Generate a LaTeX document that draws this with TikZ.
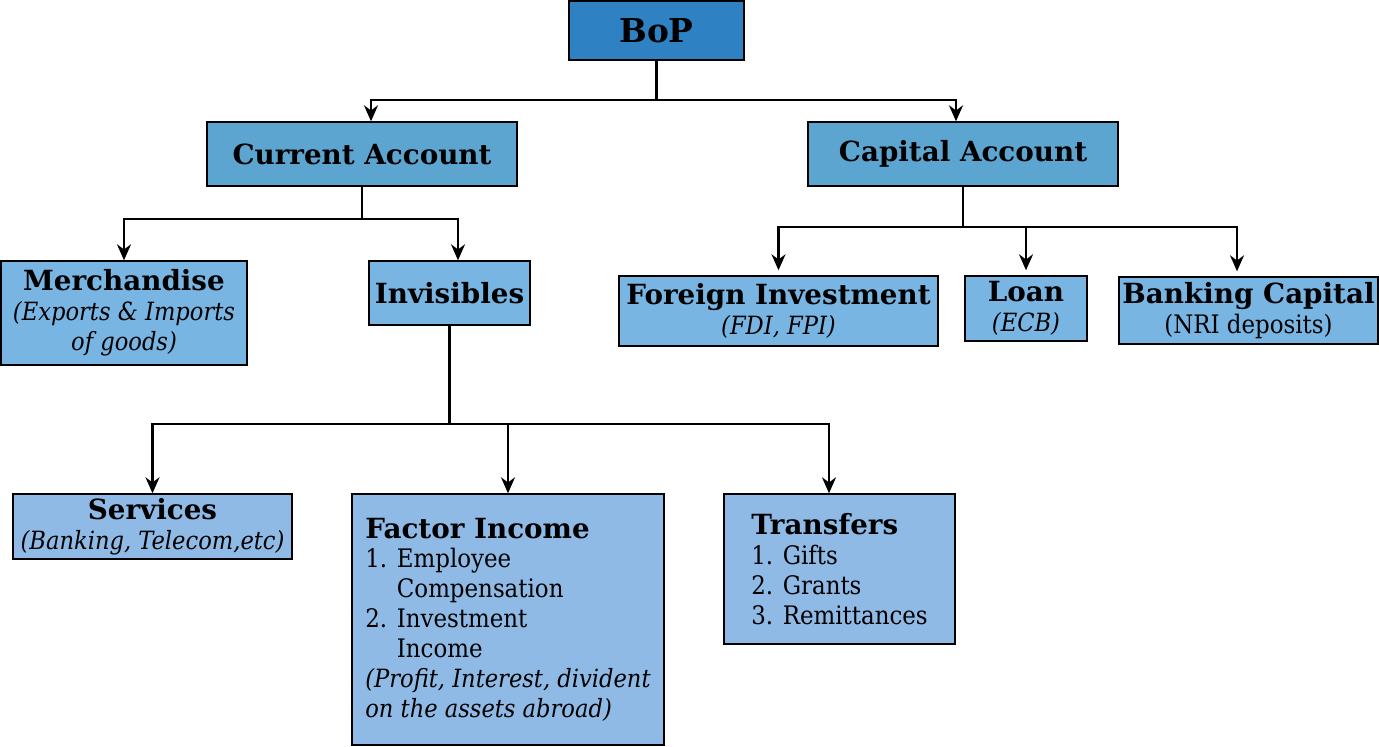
\documentclass[tikz,border=0pt]{standalone}
\usepackage{fontspec}
\setmainfont{DejaVu Serif}
\newfontfamily\condfont{DejaVu Serif Condensed}
\usetikzlibrary{arrows.meta}
\definecolor{bopblue}{RGB}{46,130,195}
\definecolor{accblue}{RGB}{93,165,209}
\definecolor{midblue}{RGB}{120,181,227}
\definecolor{lowblue}{RGB}{142,186,229}
\newcommand{\hdtxt}{\bfseries\fontsize{15.8}{17}\selectfont}
\newcommand{\ittxt}{\condfont\itshape\fontsize{14.3}{17}\selectfont}
\newcommand{\rmtxt}{\condfont\fontsize{14.5}{17}\selectfont}

\begin{document}
\begin{tikzpicture}

\tikzset{box/.style = {draw, line width=0.8pt, inner sep=2pt, font=\fontsize{14}{17}\selectfont}}
\tikzset{edge/.style = {-{Stealth[length=3.2mm,width=2.8mm]}, line width=1.3pt}}
\tikzset{link/.style = {line width=1.3pt}}
\useasboundingbox (0,0) rectangle (27.58,-14.92);
%nodes
\node[box, fill=bopblue, minimum width=3.5cm, minimum height=1.18cm, font=\bfseries\fontsize{18.7}{22}\selectfont] (bop) at (13.13,-0.61) {BoP};
\node[box, fill=accblue, minimum width=6.2cm, minimum height=1.28cm, font=\hdtxt] (cur) at (7.24,-3.08) {Current Account};
\node[box, fill=accblue, minimum width=6.2cm, minimum height=1.28cm, font=\hdtxt] (cap) at (19.26,-3.08) {Capital Account};
\node[box, fill=midblue, minimum width=4.92cm, minimum height=2.08cm, align=center] (mer) at (2.48,-6.26) {\hdtxt Merchandise\\ \ittxt (Exports \& Imports\\ \ittxt of goods)};
\node[box, fill=midblue, minimum width=3.22cm, minimum height=1.28cm, font=\hdtxt] (inv) at (8.99,-5.86) {Invisibles};
\node[box, fill=midblue, minimum width=6.38cm, minimum height=1.4cm, align=center] (fi) at (15.57,-6.22) {\hdtxt Foreign Investment\\ \ittxt (FDI, FPI)};
\node[box, fill=midblue, minimum width=2.44cm, minimum height=1.3cm, align=center] (loan) at (20.52,-6.17) {\hdtxt Loan\\ \ittxt (ECB)};
\node[box, fill=midblue, minimum width=5.18cm, minimum height=1.34cm, align=center] (bank) at (24.97,-6.21) {\hdtxt Banking Capital\\ \rmtxt (NRI deposits)};
\node[box, fill=lowblue, minimum width=5.58cm, minimum height=1.3cm, align=center] (ser) at (3.05,-10.53) {\hdtxt Services\\ \ittxt (Banking, Telecom,etc)};
\node[box, fill=lowblue, minimum width=6.24cm, minimum height=5.02cm, align=left] (fac) at (10.16,-12.39) {\hdtxt Factor Income\\ \rmtxt 1. Employee\\ \rmtxt \phantom{1. }Compensation\\ \rmtxt 2. Investment\\ \rmtxt \phantom{2. }Income\\ \ittxt (Profit, Interest, divident\\ \ittxt on the assets abroad)};
\node[box, fill=lowblue, minimum width=4.62cm, minimum height=3cm, align=left] (tra) at (16.79,-11.38) {\hdtxt Transfers\\ \rmtxt 1. Gifts\\ \rmtxt 2. Grants\\ \rmtxt 3. Remittances};
%edges
\draw[link] (bop) -- (bop |- 0,-2) coordinate (j1);
\draw[edge] (j1) -| ([xshift=0.18cm]cur.north);
\draw[edge] (j1) -| ([xshift=-0.14cm]cap.north);
\draw[link] (cur) -- (cur |- 0,-4.38) coordinate (j2);
\draw[edge] (j2) -| (mer);
\draw[edge] (j2) -| ([xshift=0.17cm]inv.north);
\draw[link] (cap) -- (cap |- 0,-4.54) coordinate (j3);
\draw[edge, shorten >=0.1cm] (j3) -| (fi);
\draw[edge, shorten >=0.1cm] (j3) -| (loan);
\draw[edge, shorten >=0.1cm] (j3) -| ([xshift=-0.23cm]bank.north);
\draw[link] (inv) -- (inv |- 0,-8.48) coordinate (j4);
\draw[edge] (j4) -| (ser);
\draw[edge] (j4) -| (fac);
\draw[edge] (j4) -| ([xshift=-0.21cm]tra.north);

\end{tikzpicture}
\end{document}
